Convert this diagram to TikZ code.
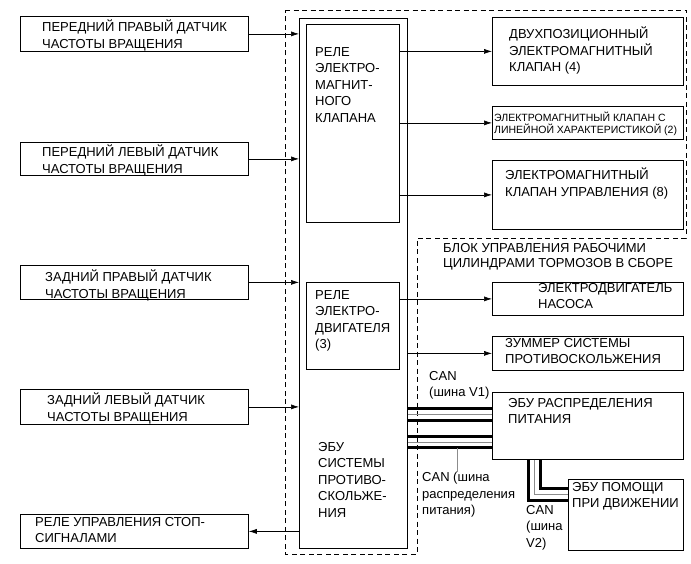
\documentclass[tikz,border=0pt]{standalone}
\usepackage{fontspec}
\setmainfont{Liberation Sans}
\usetikzlibrary{arrows.meta}

\tikzset{
  box/.style={draw, line width=0.8pt, inner sep=0pt, anchor=north west},
  txt/.style={anchor=north west, inner sep=0pt, align=left, yshift=-2pt,
    font=\fontsize{13}{16.5}\selectfont, execute at begin node=\strut},
  smalltxt/.style={font=\fontsize{10.5}{12}\selectfont},
  arr/.style={-{Latex[length=8pt,width=5pt]}, line width=0.6pt},
  zone/.style={dash pattern=on 5pt off 3.5pt, line width=0.7pt},
  canw/.style={line width=3pt},
  canm/.style={line width=0.6pt, black!45},
}

\begin{document}
\begin{tikzpicture}[x=1pt, y=-1pt]
\useasboundingbox (0,0) rectangle (691,564);
% зона блока управления
\draw[zone] (285,10) -| (686,238) -| (417,554) -| (285,10) -- cycle;
\node[txt, font=\fontsize{13}{15}\selectfont] (zonelbl) at (443,241) {БЛОК УПРАВЛЕНИЯ РАБОЧИМИ\\ЦИЛИНДРАМИ ТОРМОЗОВ В СБОРЕ};

% ЭБУ системы противоскольжения
\node[box, minimum width=108pt, minimum height=530pt] (ecu) at (299,18) {};
\node[box, minimum width=93pt, minimum height=198pt] (svr) at (306,24) {};
\node[box, minimum width=93pt, minimum height=87pt] (mr) at (306,282) {};
\node[txt] (svrtxt) at (315,45) {РЕЛЕ\\ЭЛЕКТРО-\\МАГНИТ-\\НОГО\\КЛАПАНА};
\node[txt] (mrtxt) at (315,288) {РЕЛЕ\\ЭЛЕКТРО-\\ДВИГАТЕЛЯ\\(3)};
\node[txt] (ecutxt) at (318,440) {ЭБУ\\СИСТЕМЫ\\ПРОТИВО-\\СКОЛЬЖЕ-\\НИЯ};

% датчики и реле стоп-сигналов
\foreach \n/\y/\h in {frs/16/35, fls/142/33, rrs/265/34, rls/389/35, stop/514/34}
  \node[box, minimum width=228pt, minimum height=\h] (\n) at (20,\y) {};
\node[txt] (frstxt) at (42,18) {ПЕРЕДНИЙ ПРАВЫЙ ДАТЧИК\\ЧАСТОТЫ ВРАЩЕНИЯ};
\node[txt] (flstxt) at (42,143) {ПЕРЕДНИЙ ЛЕВЫЙ ДАТЧИК\\ЧАСТОТЫ ВРАЩЕНИЯ};
\node[txt] (rrstxt) at (45,268) {ЗАДНИЙ ПРАВЫЙ ДАТЧИК\\ЧАСТОТЫ ВРАЩЕНИЯ};
\node[txt] (rlstxt) at (47,391) {ЗАДНИЙ ЛЕВЫЙ ДАТЧИК\\ЧАСТОТЫ ВРАЩЕНИЯ};
\node[txt] (stoptxt) at (35,515) {РЕЛЕ УПРАВЛЕНИЯ СТОП-\\СИГНАЛАМИ};
\foreach \n in {frs,fls,rrs,rls}
  \draw[arr] (\n.east) -- (\n.east -| ecu.west);
\draw[arr] (stop.east -| ecu.west) -- (stop.east);

% исполнительные элементы
\node[box, minimum width=191pt, minimum height=68pt] (sol2) at (492,17) {};
\node[box, minimum width=191pt, minimum height=33pt] (lin) at (492,106) {};
\node[box, minimum width=191pt, minimum height=69pt] (ctl) at (492,160) {};
\node[box, minimum width=191pt, minimum height=33pt] (pump) at (492,282) {};
\node[box, minimum width=191pt, minimum height=34pt] (buzz) at (492,336) {};
\node[box, minimum width=191pt, minimum height=67pt] (epd) at (492,392) {};
\node[box, minimum width=115pt, minimum height=71pt] (drv) at (568,479) {};
\node[txt] (sol2txt) at (509,25) {ДВУХПОЗИЦИОННЫЙ\\ЭЛЕКТРОМАГНИТНЫЙ\\КЛАПАН (4)};
\node[txt, smalltxt] (lintxt) at (494,110) {ЭЛЕКТРОМАГНИТНЫЙ КЛАПАН С\\ЛИНЕЙНОЙ ХАРАКТЕРИСТИКОЙ (2)};
\node[txt] (ctltxt) at (505,166) {ЭЛЕКТРОМАГНИТНЫЙ\\КЛАПАН УПРАВЛЕНИЯ (8)};
\node[txt] (pumptxt) at (538,281) {ЭЛЕКТРОДВИГАТЕЛЬ\\НАСОСА};
\node[txt] (buzztxt) at (505,336) {ЗУММЕР СИСТЕМЫ\\ПРОТИВОСКОЛЬЖЕНИЯ};
\node[txt] (epdtxt) at (508,396) {ЭБУ РАСПРЕДЕЛЕНИЯ\\ПИТАНИЯ};
\node[txt] (drvtxt) at (572,480) {ЭБУ ПОМОЩИ\\ПРИ ДВИЖЕНИИ};
\foreach \n in {sol2,lin,ctl}
  \draw[arr] (svr.east |- \n.west) -- (\n.west);
\draw[arr] (mr.east |- pump.west) -- (pump.west);
\draw[arr] (ecu.east |- buzz.west) -- (buzz.west);

% шины CAN
\foreach \y/\s in {408/canw, 414/canm, 420/canw, 436/canw, 442/canm, 447/canw}
  \draw[\s] (ecu.east |- 0,\y) -- (epd.west |- 0,\y);
\foreach \x/\y/\s in {528/500/canw, 534/494/canm, 540/488/canw}
  \draw[\s] (epd.south -| \x,0) |- (drv.west |- 0,\y);
\node[txt] (canv1) at (429,369) {CAN\\(шина V1)};
\node[txt] (canpl) at (422,470) {CAN (шина\\распределения\\питания)};
\node[txt] (canv2) at (526,503) {CAN\\(шина\\V2)};
\coordinate (tap) at (457,448);
\draw[canm] (tap) -- (canpl.north -| tap);
\end{tikzpicture}
\end{document}
